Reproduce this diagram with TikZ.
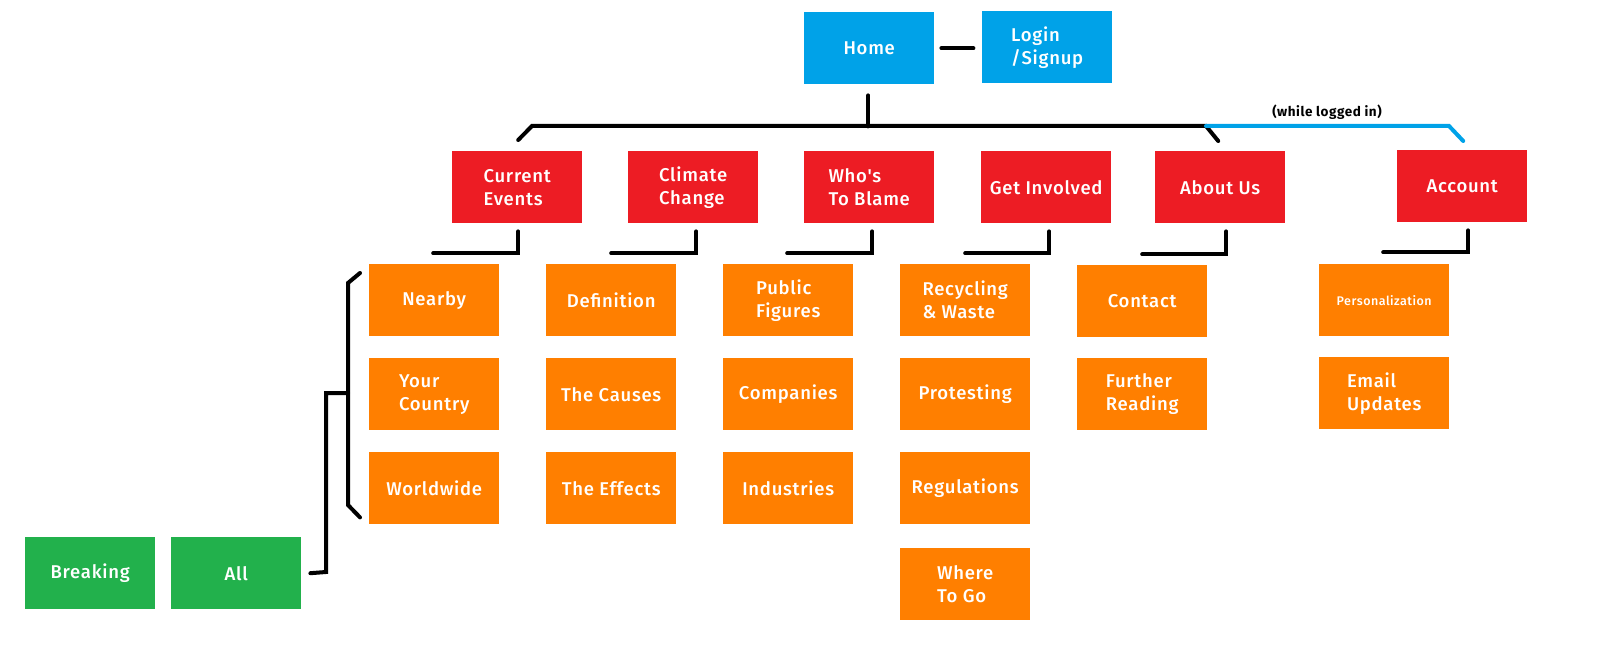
\documentclass[tikz,border=0pt]{standalone}
\usepackage{fontspec}
\setmainfont{Fira Sans}[Ligatures=TeXOff, UprightFont=* Medium, BoldFont=* Bold, LetterSpace=4]
\usetikzlibrary{calc}
\definecolor{cblue}{HTML}{00A2E8}
\definecolor{cred}{HTML}{ED1C24}
\definecolor{corange}{HTML}{FF7F00}
\definecolor{cgreen}{HTML}{22B14C}
\tikzset{
  box/.style={anchor=north west, minimum width=130pt, minimum height=72pt, inner sep=0pt,
    text=white, align=left, font=\fontsize{18.5}{23}\selectfont},
  bluebox/.style={box, fill=cblue},
  redbox/.style={box, fill=cred},
  orbox/.style={box, fill=corange},
  grbox/.style={box, fill=cgreen},
  link/.style={line width=4pt, line cap=round, line join=miter, black},
  bluelink/.style={link, cblue},
}
\begin{document}
\begin{tikzpicture}[x=1pt,y=-1pt]
\useasboundingbox (0,0) rectangle (1609,652);
% top
\node[bluebox] (home) at (804,12) {Home};
\node[bluebox] (login) at (982,11) {Login\\/Signup};
% red row
\node[redbox] (ce) at (452,151) {Current\\Events};
\node[redbox] (cc) at (628,151) {Climate\\Change};
\node[redbox] (wb) at (804,151) {Who's\\To Blame};
\node[redbox] (gi) at (981,151) {Get Involved};
\node[redbox] (au) at (1155,151) {About Us};
\node[redbox] (ac) at (1397,150) {Account};
% orange columns
\node[orbox] (nb) at (369,264) {Nearby};
\node[orbox] (yc) at (369,358) {Your\\Country};
\node[orbox] (ww) at (369,452) {Worldwide};
\node[orbox] (df) at (546,264) {Definition};
\node[orbox] (tc) at (546,358) {The Causes};
\node[orbox] (te) at (546,452) {The Effects};
\node[orbox] (pf) at (723,264) {Public\\Figures};
\node[orbox] (co) at (723,358) {Companies};
\node[orbox] (in) at (723,452) {Industries};
\node[orbox] (rw) at (900,264) {Recycling\\\& Waste};
\node[orbox] (pr) at (900,358) {Protesting};
\node[orbox] (rg) at (900,452) {Regulations};
\node[orbox] (wt) at (900,548) {Where\\To Go};
\node[orbox] (ct) at (1077,265) {Contact};
\node[orbox] (fr) at (1077,358) {Further\\Reading};
\node[orbox, font=\fontsize{12.5}{15}\selectfont] (ps) at (1319,264) {Personalization};
\node[orbox] (eu) at (1319,357) {Email\\Updates};
% green
\node[grbox] (br) at (25,537) {Breaking};
\node[grbox] (al) at (171,537) {All};
% home-login
\draw[link] ($(home.east)+(7,0)$) -- ($(home.east)+(39,0)$);
% tree from home
\coordinate (hub) at ($(home.south)+(-1,42)$);
\coordinate (lt) at (532,126);
\coordinate (rt) at (1206,126);
\coordinate (bt) at (1449,126);
\draw[link] ($(home.south)+(-1,11)$) -- (hub);
\draw[link] ($(ce.north)+(1,-11)$) -- (lt) -- (rt) -- ($(au.north)+(-2,-10)$);
\draw[bluelink] (rt) -- (bt) -- ($(ac.north)+(1,-9)$);
\node[font=\bfseries\fontsize{13.5}{15}\selectfont, anchor=center] (wl) at (1327,112) {(while logged in)};
% brackets under red boxes
\draw[link] ($(ce.south)+(1,8)$) -- ++(0,22) -- ++(-85,0);
\draw[link] ($(cc.south)+(3,8)$) -- ++(0,22) -- ++(-85,0);
\draw[link] ($(wb.south)+(3,8)$) -- ++(0,22) -- ++(-85,0);
\draw[link] ($(gi.south)+(3,8)$) -- ++(0,22) -- ++(-84,0);
\draw[link] ($(au.south)+(6,8)$) -- ++(0,23) -- ++(-84,0);
\draw[link] ($(ac.south)+(6,8)$) -- ++(0,22) -- ++(-85,0);
% left bracket for current events
\coordinate (lbt) at (348,283);
\coordinate (lbb) at (348,505);
\coordinate (lbm) at (348,393);
\draw[link] ($(nb.north west)+(-9,9)$) -- (lbt) -- (lbb) -- ($(ww.south west)+(-9,-7)$);
\draw[link] (lbm) -- (326,393) -- (326,572) -- ($(al.east)+(9,0)$);
\end{tikzpicture}
\end{document}
